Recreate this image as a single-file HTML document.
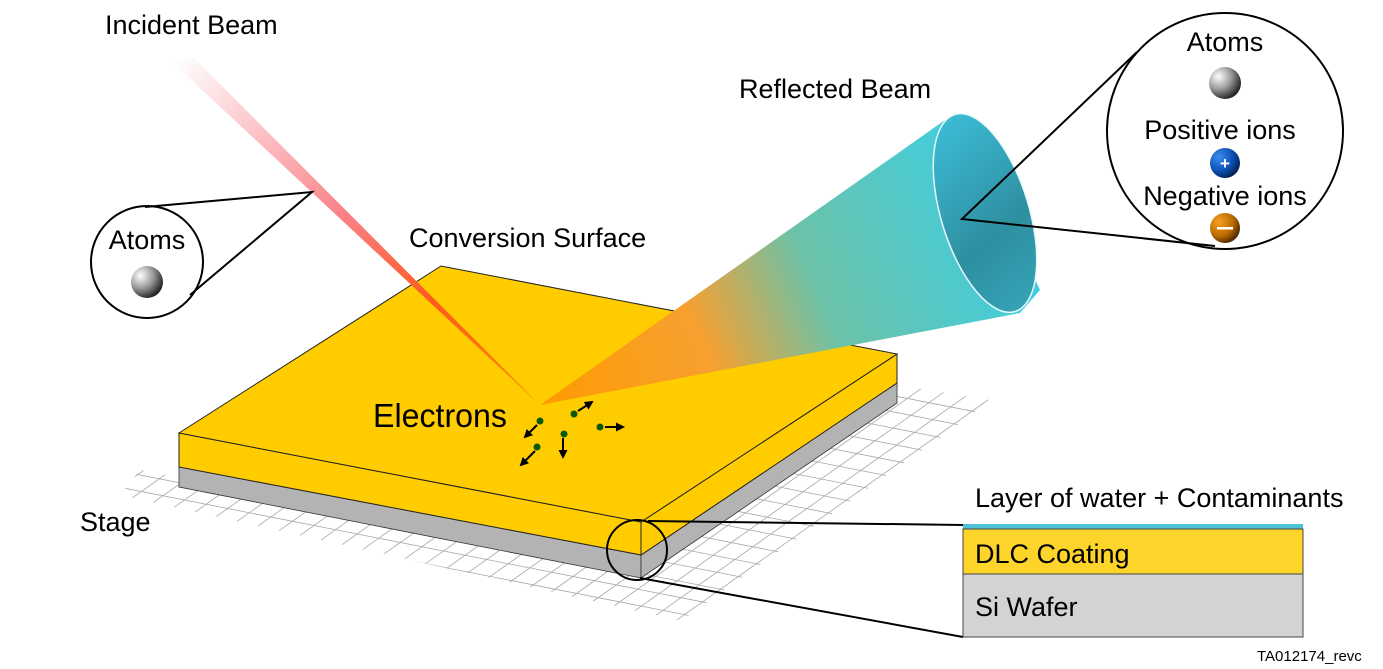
<!DOCTYPE html>
<html><head><meta charset="utf-8"><style>
html,body{margin:0;padding:0;background:#fff}
svg{display:block}
text{font-family:"Liberation Sans",sans-serif;fill:#000}
</style></head><body>
<svg id="s" width="1383" height="669" viewBox="0 0 1383 669" xmlns="http://www.w3.org/2000/svg">
<defs>
<linearGradient id="inc" x1="175" y1="60" x2="540" y2="405" gradientUnits="userSpaceOnUse">
<stop offset="0" stop-color="#fff"/><stop offset="0.45" stop-color="#f9838a"/><stop offset="0.7" stop-color="#ff5a1e"/><stop offset="1" stop-color="#ff8a00"/></linearGradient>
<linearGradient id="refl" x1="540" y1="405" x2="1000" y2="210" gradientUnits="userSpaceOnUse">
<stop offset="0" stop-color="#ff9a00"/><stop offset="0.35" stop-color="#f7a030"/><stop offset="0.6" stop-color="#6cc2a8"/><stop offset="1" stop-color="#40cde0"/></linearGradient>
<linearGradient id="inner" x1="950" y1="120" x2="1030" y2="310" gradientUnits="userSpaceOnUse">
<stop offset="0" stop-color="#3cbcd6"/><stop offset="0.6" stop-color="#2e8fa0"/><stop offset="1" stop-color="#35a5b8"/></linearGradient>
<radialGradient id="atom" cx="0.3" cy="0.3" r="0.8"><stop offset="0" stop-color="#fff"/><stop offset="0.5" stop-color="#999"/><stop offset="1" stop-color="#111"/></radialGradient>
<radialGradient id="pos" cx="0.3" cy="0.3" r="0.8"><stop offset="0" stop-color="#3a8ef0"/><stop offset="0.6" stop-color="#0b4fb0"/><stop offset="1" stop-color="#021a40"/></radialGradient>
<radialGradient id="neg" cx="0.3" cy="0.3" r="0.8"><stop offset="0" stop-color="#f6a020"/><stop offset="0.6" stop-color="#b86a00"/><stop offset="1" stop-color="#3a1e00"/></radialGradient>
<clipPath id="gc"><polygon points="140,470 641,560 897,385 990,400 700,625 120,495"/></clipPath>
<marker id="ar" markerWidth="9" markerHeight="9" refX="7" refY="4.5" orient="auto" markerUnits="userSpaceOnUse"><path d="M0,0 L9,4.5 L0,9z" fill="#000"/></marker>
</defs>
<g id="grid" clip-path="url(#gc)" stroke="#a8a8a8" stroke-width="0.8"></g>
<!-- plate -->
<polygon points="179,467 641,555 641,578 179,487" fill="#b3b3b3" stroke="#333" stroke-width="0.8"/>
<polygon points="641,555 897,383 897,403 641,578" fill="#b3b3b3" stroke="#333" stroke-width="0.8"/>
<polygon points="179,433 641,522 641,555 179,467" fill="#ffcc00" stroke="#222" stroke-width="1"/>
<polygon points="641,522 897,354 897,383 641,555" fill="#ffcc00" stroke="#222" stroke-width="1"/>
<polygon points="179,433 441,266 897,354 641,522" fill="#ffcc00" stroke="#222" stroke-width="1"/>
<!-- beams -->
<polygon points="172,62 194,58 540,405" fill="url(#inc)"/>
<polygon points="540,405 955,113 1040,290 1020,313" fill="url(#refl)"/>
<ellipse cx="985" cy="213" rx="44" ry="103" transform="rotate(-17 985 213)" fill="url(#inner)" stroke="#e8f8fb" stroke-width="1.5"/>
<!-- electrons -->
<g fill="#0a5a0a" stroke="#000" stroke-width="2">
<line x1="537" y1="425" x2="525" y2="437" marker-end="url(#ar)"/>
<line x1="535" y1="451" x2="521" y2="465" marker-end="url(#ar)"/>
<line x1="578" y1="411" x2="592" y2="402" marker-end="url(#ar)"/>
<line x1="605" y1="427" x2="623" y2="427" marker-end="url(#ar)"/>
<line x1="563" y1="438" x2="563" y2="457" marker-end="url(#ar)"/>
<circle cx="540" cy="421" r="3.5" stroke="none"/><circle cx="537" cy="447" r="3.5" stroke="none"/>
<circle cx="574" cy="414" r="3.5" stroke="none"/><circle cx="600" cy="427" r="3.5" stroke="none"/>
<circle cx="564" cy="434" r="3.5" stroke="none"/>
</g>
<!-- zoom callouts -->
<g fill="none" stroke="#000" stroke-width="2">
<circle cx="147" cy="262" r="56" fill="#fff"/>
<polyline points="145,207 312,192 190,295"/>
<circle cx="1225" cy="131" r="118" fill="#fff"/>
<polyline points="1137,52 962,219 1215,246"/>
<circle cx="637" cy="550" r="30"/>
<line x1="648" y1="521" x2="963" y2="525"/>
<line x1="640" y1="578" x2="963" y2="637"/>
</g>
<circle cx="147" cy="282" r="16" fill="url(#atom)"/>
<circle cx="1225" cy="83" r="16" fill="url(#atom)"/>
<circle cx="1225" cy="163" r="15" fill="url(#pos)"/>
<text x="1225" y="169" text-anchor="middle" font-size="17" style="fill:#fff;font-weight:bold">+</text>
<circle cx="1225" cy="228" r="15" fill="url(#neg)"/>
<rect x="1217" y="227" width="16" height="2.5" fill="#fff"/>
<!-- cross section -->
<rect x="963" y="524" width="340" height="5" fill="#4ec3d6"/>
<rect x="963" y="529" width="340" height="45" fill="#fdd42a" stroke="#444" stroke-width="1"/>
<rect x="963" y="574" width="340" height="63" fill="#d3d3d3" stroke="#444" stroke-width="1"/>
<!-- text -->
<text x="105" y="34" font-size="27">Incident Beam</text>
<text x="739" y="98" font-size="27">Reflected Beam</text>
<text x="409" y="247" font-size="27">Conversion Surface</text>
<text x="373" y="427" font-size="33" textLength="134" lengthAdjust="spacingAndGlyphs">Electrons</text>
<text x="80" y="531" font-size="27">Stage</text>
<text x="147" y="249" font-size="27" text-anchor="middle">Atoms</text>
<text x="1225" y="51" font-size="27" text-anchor="middle">Atoms</text>
<text x="1220" y="139" font-size="27" text-anchor="middle">Positive ions</text>
<text x="1225" y="205" font-size="27" text-anchor="middle">Negative ions</text>
<text x="975" y="507" font-size="27">Layer of water + Contaminants</text>
<text x="975" y="563" font-size="27">DLC Coating</text>
<text x="975" y="616" font-size="27">Si Wafer</text>
<text x="1257" y="661" font-size="15">TA012174_revc</text>
</svg>
<script>
(function(){
var g=document.getElementById('grid');var O=[641,578],u=[0.981,0.193],v=[0.817,-0.578];
function P(a,b){return [O[0]+a*u[0]+b*v[0],O[1]+a*u[1]+b*v[1]];}
function L(p,q){var l=document.createElementNS('http://www.w3.org/2000/svg','line');l.setAttribute('x1',p[0]);l.setAttribute('y1',p[1]);l.setAttribute('x2',q[0]);l.setAttribute('y2',q[1]);g.appendChild(l);}
for(var b=-60;b<=380;b+=22)L(P(-540,b),P(80,b));
for(var a=-540;a<=80;a+=22)L(P(a,-60),P(a,380));
})();
</script>
</body></html>
